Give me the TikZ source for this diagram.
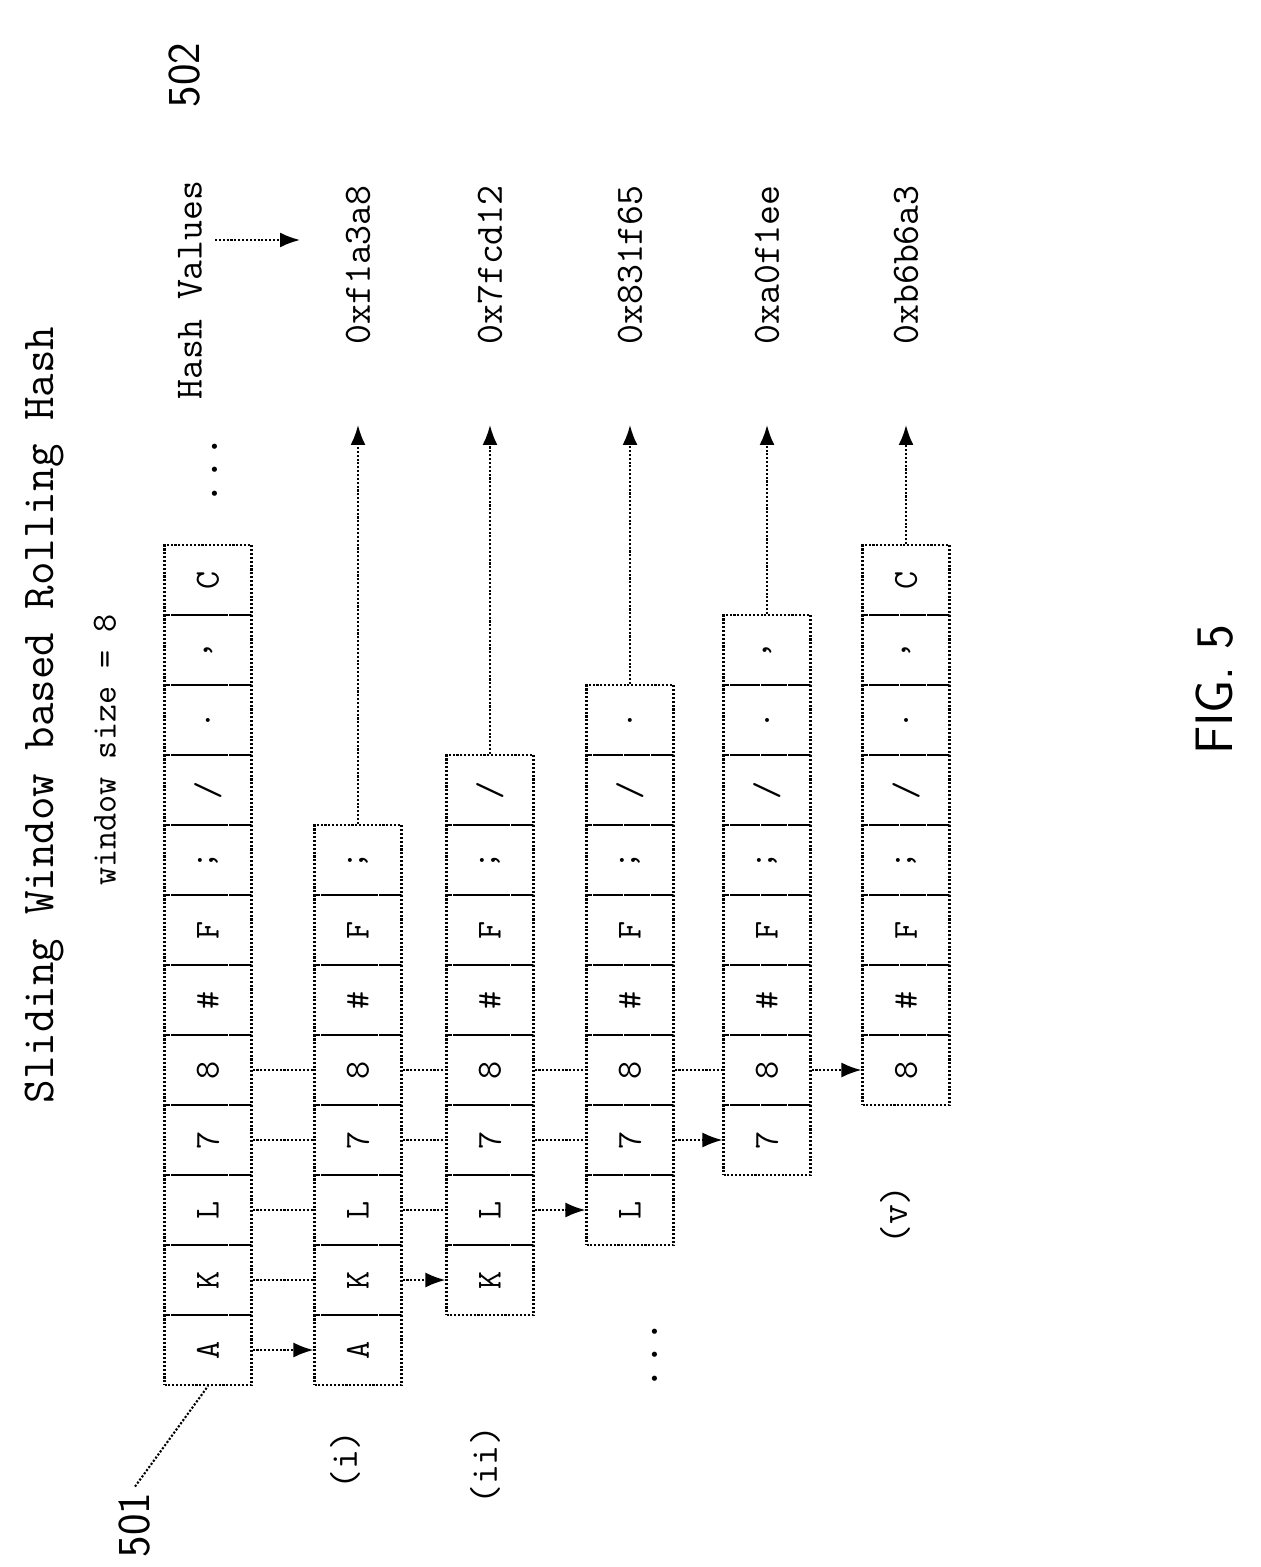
\documentclass[tikz,border=0pt]{standalone}
\usepackage{tikz}
\usetikzlibrary{arrows.meta}

\newcommand{\cellchar}[1]{\ifcase#1 A\or K\or L\or 7\or 8\or \#\or F\or ;\or /\or .\or ,\or C\fi}

\tikzset{
  cell/.style={draw,densely dotted,line width=1.2pt,minimum width=1.74cm,minimum height=1.4cm,
    inner sep=0pt,font=\fontsize{20}{22}\ttfamily},
  link/.style={densely dotted,line width=1.2pt},
  tip/.style={-{Latex[length=4mm,width=3mm]}},
  tag/.style={font=\fontsize{22}{26}\ttfamily,rotate=90}
}

\begin{document}
\begin{tikzpicture}[x=0.02cm,y=-0.02cm]
					\useasboundingbox (0,0) rectangle (1260,1567);
					%first row: all characters
					\foreach \j in {0,...,11}
					  \node[cell] (r0-\j) at (208,1350-70*\j) {\rotatebox{90}{\cellchar{\j}}};
					%windows of 8
					\foreach \x/\k/\lo/\hi in {358/1/0/7,490/2/1/8,630/3/2/9,767/4/3/10,906/5/4/11}
					  \foreach \j in {\lo,...,\hi}
					    \node[cell] (r\k-\j) at (\x,1350-70*\j) {\rotatebox{90}{\cellchar{\j}}};
					%connectors between rows
					\foreach \p/\k in {0/1,1/2,2/3,3/4,4/5}
					  \draw[link,tip] (r\p-\p.east) -- (r\k-\p.west);
					\foreach \p/\k/\a in {0/1/1,1/2/2,2/3/3,3/4/4}
					  \foreach \j in {\a,...,4}
					    \draw[link] (r\p-\j.east) -- (r\k-\j.west);
					%hash outputs
					\foreach \x/\k/\t/\h in {358/1/7/0xf1a3a8,490/2/8/0x7fcd12,630/3/9/0x831f65,767/4/10/0xa0f1ee,906/5/11/0xb6b6a3}{
					  \coordinate (h\k) at (\x,425);
					  \draw[link,tip] (r\k-\t.north) -- (h\k);
					  \node[tag] (v\k) at (\x,265) {\h};
					}
					\node[tag] (hv) at (190,290) {Hash Values};
					\coordinate (hvend) at (300,240);
					\draw[link,tip] (215,240) -- (hvend);
					\node[font=\fontsize{26}{30}\sffamily,rotate=90] (n502) at (185,75) {502};
					\node[font=\fontsize{26}{30}\ttfamily,rotate=90] (title) at (45,715) {Sliding Window based Rolling Hash};
					\node[font=\fontsize{20}{24}\ttfamily,rotate=90] (wsize) at (105,750) {window size = 8};
					\node[font=\fontsize{26}{30}\ttfamily,rotate=90] (dots1) at (215,470) {...};
					\node[font=\fontsize{26}{30}\ttfamily,rotate=90] (dots2) at (655,1355) {...};
					\node[tag] (li) at (345,1460) {(i)};
					\node[tag] (lii) at (485,1465) {(ii)};
					\node[tag] (lv) at (895,1215) {(v)};
					\node[font=\fontsize{26}{30}\sffamily,rotate=90] (n501) at (135,1525) {501};
					\draw[link] (n501.east) -- (r0-0.south);
					\node[font=\fontsize{30}{34}\sffamily,rotate=90] (fig) at (1215,690) {FIG. 5};
	  \end{tikzpicture}
\end{document}
